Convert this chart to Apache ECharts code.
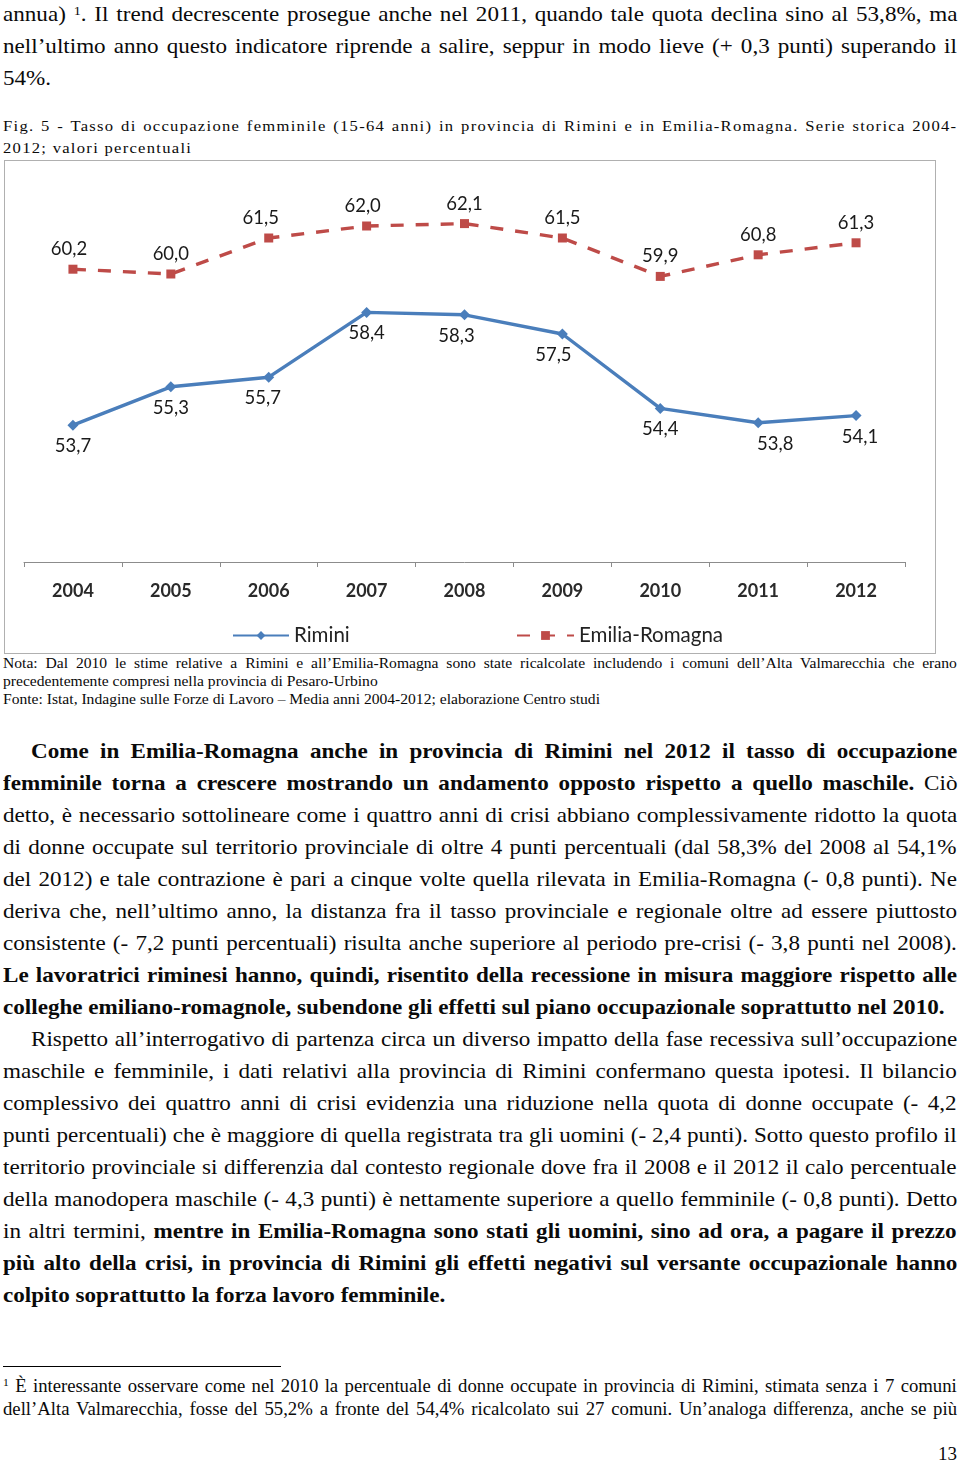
<!DOCTYPE html>
<html><head><meta charset="utf-8">
<script src="https://cdn.jsdelivr.net/npm/echarts@6/dist/echarts.min.js"></script>
<style>
html,body{margin:0;padding:0;background:#fff;}
body{width:960px;height:1462px;position:relative;overflow:hidden;font-family:"Liberation Serif","Times New Roman",serif;color:#0a0a0a;}
.ln{position:absolute;white-space:nowrap;transform-origin:0 50%;}
.ln .in{display:inline-block;}
sup{font-size:0.62em;vertical-align:0.5em;line-height:0;}
b{font-weight:bold;}
#chart{position:absolute;left:4px;top:160px;width:932px;height:494px;border:1px solid #b0b0b0;box-sizing:border-box;}
.rule{position:absolute;left:3px;top:1366px;width:278px;height:1px;background:#000;}
</style></head>
<body>
<div class="ln body" data-b="20.7" data-x="3" data-w="954" data-j="1"><span class="in">annua) <sup>1</sup>. Il trend decrescente prosegue anche nel 2011, quando tale quota declina sino al 53,8%, ma</span></div>
<div class="ln body" data-b="52.7" data-x="3" data-w="954" data-j="1"><span class="in">nell’ultimo anno questo indicatore riprende a salire, seppur in modo lieve (+ 0,3 punti) superando il</span></div>
<div class="ln body" data-b="84.7" data-x="3"><span class="in">54%.</span></div>

<div class="ln cap" data-b="131" data-x="3" data-w="954" data-j="1"><span class="in">Fig. 5 - Tasso di occupazione femminile (15-64 anni) in provincia di Rimini e in Emilia-Romagna. Serie storica 2004-</span></div>
<div class="ln cap" data-b="153" data-x="3"><span class="in">2012; valori percentuali</span></div>

<div id="chart"></div>

<div class="ln nota" data-b="669" data-x="3" data-w="954" data-j="1"><span class="in">Nota: Dal 2010 le stime relative a Rimini e all’Emilia-Romagna sono state ricalcolate includendo i comuni dell’Alta Valmarecchia che erano</span></div>
<div class="ln nota" data-b="687" data-x="3"><span class="in">precedentemente compresi nella provincia di Pesaro-Urbino</span></div>
<div class="ln nota" data-b="705" data-x="3"><span class="in">Fonte: Istat, Indagine sulle Forze di Lavoro – Media anni 2004-2012; elaborazione Centro studi</span></div>

<div class="ln body" data-b="757.7" data-x="31" data-w="926" data-j="1"><span class="in"><b>Come in Emilia-Romagna anche in provincia di Rimini nel 2012 il tasso di occupazione</b></span></div>
<div class="ln body" data-b="789.7" data-x="3" data-w="954" data-j="1"><span class="in"><b>femminile torna a crescere mostrando un andamento opposto rispetto a quello maschile.</b> Ciò</span></div>
<div class="ln body" data-b="821.7" data-x="3" data-w="954" data-j="1"><span class="in">detto, è necessario sottolineare come i quattro anni di crisi abbiano complessivamente ridotto la quota</span></div>
<div class="ln body" data-b="853.7" data-x="3" data-w="954" data-j="1"><span class="in">di donne occupate sul territorio provinciale di oltre 4 punti percentuali (dal 58,3% del 2008 al 54,1%</span></div>
<div class="ln body" data-b="885.7" data-x="3" data-w="954" data-j="1"><span class="in">del 2012) e tale contrazione è pari a cinque volte quella rilevata in Emilia-Romagna (- 0,8 punti). Ne</span></div>
<div class="ln body" data-b="917.7" data-x="3" data-w="954" data-j="1"><span class="in">deriva che, nell’ultimo anno, la distanza fra il tasso provinciale e regionale oltre ad essere piuttosto</span></div>
<div class="ln body" data-b="949.7" data-x="3" data-w="954" data-j="1"><span class="in">consistente (- 7,2 punti percentuali) risulta anche superiore al periodo pre-crisi (- 3,8 punti nel 2008).</span></div>
<div class="ln body" data-b="981.7" data-x="3" data-w="954" data-j="1"><span class="in"><b>Le lavoratrici riminesi hanno, quindi, risentito della recessione in misura maggiore rispetto alle</b></span></div>
<div class="ln body" data-b="1013.7" data-x="3"><span class="in"><b>colleghe emiliano-romagnole, subendone gli effetti sul piano occupazionale soprattutto nel 2010.</b></span></div>
<div class="ln body" data-b="1045.7" data-x="31" data-w="926" data-j="1"><span class="in">Rispetto all’interrogativo di partenza circa un diverso impatto della fase recessiva sull’occupazione</span></div>
<div class="ln body" data-b="1077.7" data-x="3" data-w="954" data-j="1"><span class="in">maschile e femminile, i dati relativi alla provincia di Rimini confermano questa ipotesi. Il bilancio</span></div>
<div class="ln body" data-b="1109.7" data-x="3" data-w="954" data-j="1"><span class="in">complessivo dei quattro anni di crisi evidenzia una riduzione nella quota di donne occupate (- 4,2</span></div>
<div class="ln body" data-b="1141.7" data-x="3" data-w="954" data-j="1"><span class="in">punti percentuali) che è maggiore di quella registrata tra gli uomini (- 2,4 punti). Sotto questo profilo il</span></div>
<div class="ln body" data-b="1173.7" data-x="3" data-w="954" data-j="1"><span class="in">territorio provinciale si differenzia dal contesto regionale dove fra il 2008 e il 2012 il calo percentuale</span></div>
<div class="ln body" data-b="1205.7" data-x="3" data-w="954" data-j="1"><span class="in">della manodopera maschile (- 4,3 punti) è nettamente superiore a quello femminile (- 0,8 punti). Detto</span></div>
<div class="ln body" data-b="1237.7" data-x="3" data-w="954" data-j="1"><span class="in">in altri termini, <b>mentre in Emilia-Romagna sono stati gli uomini, sino ad ora, a pagare il prezzo</b></span></div>
<div class="ln body" data-b="1269.7" data-x="3" data-w="954" data-j="1"><span class="in"><b>più alto della crisi, in provincia di Rimini gli effetti negativi sul versante occupazionale hanno</b></span></div>
<div class="ln body" data-b="1301.7" data-x="3"><span class="in"><b>colpito soprattutto la forza lavoro femminile.</b></span></div>

<div class="rule"></div>
<div class="ln fn" data-b="1393" data-x="3" data-w="954" data-j="1"><span class="in"><sup>1</sup> È interessante osservare come nel 2010 la percentuale di donne occupate in provincia di Rimini, stimata senza i 7 comuni</span></div>
<div class="ln fn" data-b="1416" data-x="3" data-w="954" data-j="1"><span class="in">dell’Alta Valmarecchia, fosse del 55,2% a fronte del 54,4% ricalcolato sui 27 comuni. Un’analoga differenza, anche se più</span></div>
<div class="ln pg" data-b="1460" data-x="938"><span class="in">13</span></div>

<script>
// ---- chart data ----
const years = ['2004', '2005', '2006', '2007', '2008', '2009', '2010', '2011', '2012'];
const rimini = [53.7, 55.3, 55.7, 58.4, 58.3, 57.5, 54.4, 53.8, 54.1];
const emiliaRomagna = [60.2, 60.0, 61.5, 62.0, 62.1, 61.5, 59.9, 60.8, 61.3];
const seriesNames = ['Rimini', 'Emilia-Romagna'];

// ---- text layout ----
const styles = {
  body: { fs: 21,   sx: 1.1,  ls: 0 },
  cap:  { fs: 15.5, sx: 1.07, ls: 1.2 },
  nota: { fs: 15,   sx: 1.04, ls: 0 },
  fn:   { fs: 18,   sx: 1.04, ls: 0 },
  pg:   { fs: 19,   sx: 1.0,  ls: 0 }
};
document.querySelectorAll('.ln').forEach(el => {
  const key = Object.keys(styles).find(k => el.classList.contains(k));
  const st = styles[key];
  const fs = st.fs, bl = +el.dataset.b, x = +el.dataset.x;
  const L = Math.round(fs * 1.25);
  el.style.fontSize = fs + 'px';
  el.style.lineHeight = L + 'px';
  el.style.left = x + 'px';
  el.style.top = (bl - (L / 2 + 0.3375 * fs)) + 'px';
  if (st.ls) el.style.letterSpacing = st.ls + 'px';
  el.style.transform = 'scaleX(' + st.sx + ')';
  if (el.dataset.j) {
    const inner = el.querySelector('.in');
    const w = inner.offsetWidth;
    const spaces = (inner.textContent.match(/ /g) || []).length;
    const target = +el.dataset.w / st.sx;
    if (spaces > 0) inner.style.wordSpacing = ((target - w) / spaces) + 'px';
  }
});

// ---- chart ----
const chart = echarts.init(document.getElementById('chart'));
const fmt = p => p.value.toFixed(1).replace('.', ',');
const font = 'Lato, "Open Sans", sans-serif';
// small horizontal nudges of individual data labels, as placed in the source chart
const riminiLabelShift = { 2: -6, 4: -8, 5: -9, 7: 17, 8: 4 };
const erLabelShift = { 0: -4, 2: -8, 3: -4 };
const withShift = (vals, shifts) => vals.map((v, i) =>
  shifts[i] ? { value: v, label: { offset: [shifts[i], 0] } } : v);

chart.setOption({
  animation: false,
  textStyle: { fontFamily: font },
  grid: { left: 19, right: 30, top: 17, bottom: 91 },
  legend: [
    { data: [seriesNames[0]], left: 222, top: 459, itemWidth: 56, itemHeight: 11,
      textStyle: { fontSize: 20.5, color: '#222', fontFamily: font } },
    { data: [seriesNames[1]], left: 506, top: 459, itemWidth: 57, itemHeight: 11,
      textStyle: { fontSize: 20.5, color: '#222', fontFamily: font } }
  ],
  xAxis: {
    type: 'category', data: years, boundaryGap: true,
    axisLine: { lineStyle: { color: '#8c8c8c', width: 1 } },
    axisTick: { show: true, length: 5, lineStyle: { color: '#8c8c8c' } },
    axisLabel: { fontSize: 18, fontWeight: 'bold', color: '#2a2a2a', margin: 20, fontFamily: font }
  },
  yAxis: { type: 'value', min: 48, max: 64, show: false, splitLine: { show: false } },
  series: [
    { name: seriesNames[0], type: 'line', data: withShift(rimini, riminiLabelShift),
      symbol: 'diamond', symbolSize: 11,
      lineStyle: { color: '#4a7ebb', width: 3.4 },
      itemStyle: { color: '#4a7ebb' },
      label: { show: true, position: 'bottom', distance: 6, fontSize: 18.5, color: '#1a1a1a', formatter: fmt, fontFamily: font } },
    { name: seriesNames[1], type: 'line', data: withShift(emiliaRomagna, erLabelShift),
      symbol: 'rect', symbolSize: 9,
      lineStyle: { color: '#be4b48', width: 3.4, type: [13, 12] },
      itemStyle: { color: '#be4b48' },
      label: { show: true, position: 'top', distance: 6, fontSize: 18.5, color: '#1a1a1a', formatter: fmt, fontFamily: font } }
  ]
});
</script>
</body></html>
